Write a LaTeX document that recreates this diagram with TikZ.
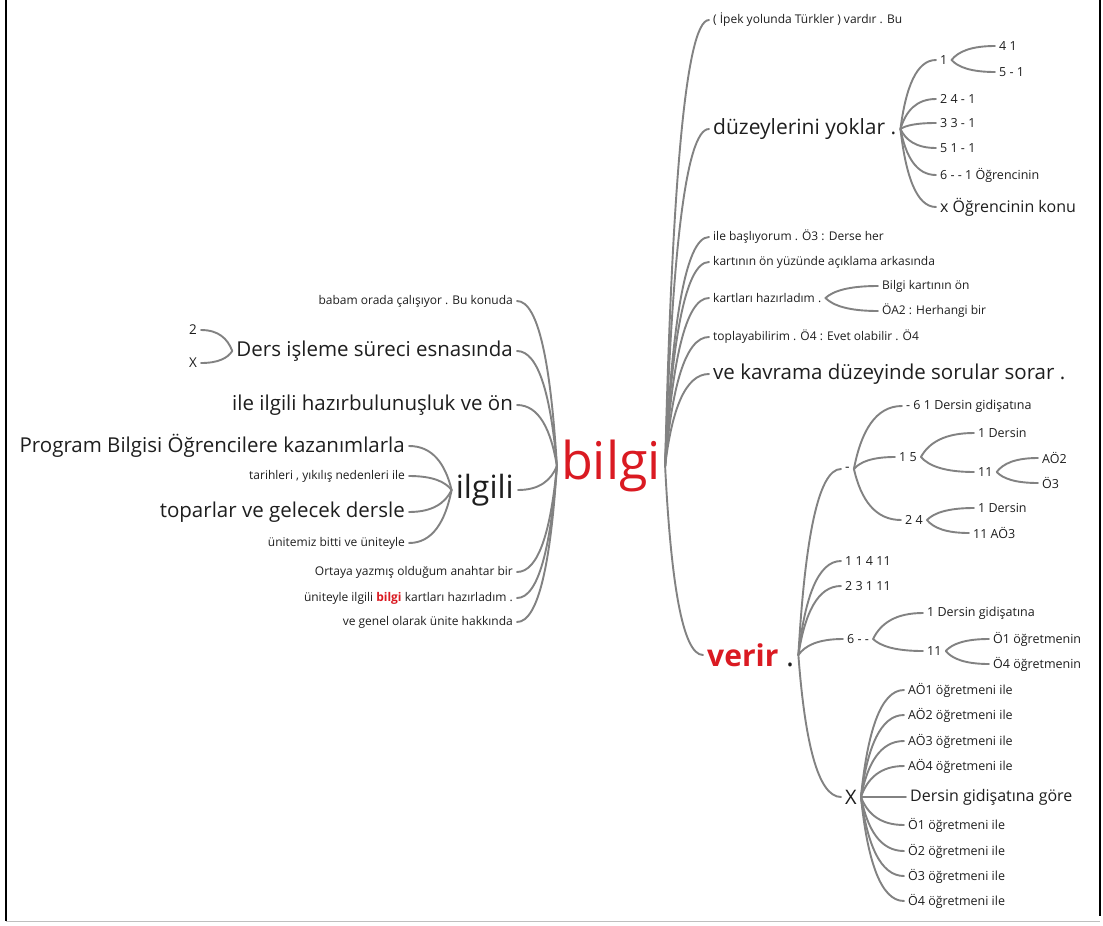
\documentclass[tikz,border=0pt]{standalone}
\usepackage{fontspec}
\setmainfont{Open Sans}
\usetikzlibrary{calc}

\definecolor{linegray}{RGB}{130,130,130}
\definecolor{keyred}{RGB}{218,26,34}
\definecolor{ink}{RGB}{30,30,30}

\tikzset{
  conn/.style={draw=linegray, line width=1.9pt, line cap=round},
  lbl/.style={inner xsep=4pt, inner ysep=1pt, text=ink, font=\fontsize{12}{14}\selectfont},
  rt/.style={lbl, anchor=west},
  lt/.style={lbl, anchor=east},
  big/.style={font=\fontsize{20.5}{24}\selectfont},
  mid/.style={font=\fontsize{16}{19}\selectfont},
  num/.style={font=\fontsize{12.5}{15}\selectfont},
  hub/.style={inner xsep=4pt, inner ysep=1pt, text=keyred, font=\fontsize{52}{56}\selectfont},
}

% curved branch from a parent point to a child point
\newcommand\mmlink[2]{\draw[conn] let \p1=(#1), \p2=(#2) in
  (\p1) .. controls ({\x1+0.15*(\x2-\x1)},{\y1+0.6*(\y2-\y1)})
           and ({\x1+0.45*(\x2-\x1)},{\y2}) .. (\p2);}

\begin{document}
\begin{tikzpicture}[x=1pt,y=-1pt]
\useasboundingbox (0,0) rectangle (1103,926);
\fill[white] (0,0) rectangle (1103,926);

% frame
\draw[line width=1.5pt] (6,0) -- (6,921);
\draw[line width=1.5pt] (1100,0) -- (1100,916);
\draw[line width=1pt, black!25] (6,921) -- (1100,921);

% centre
\node[hub] (bilgi) at (611,466) {bilgi};

% right side, first level
\node[rt] (r1) at (709,20) {( İpek yolunda Türkler ) vardır . Bu};
\node[rt,font=\fontsize{21}{25}\selectfont] (r2) at (709,129) {düzeylerini yoklar .};
\node[rt] (r3) at (709,237) {ile başlıyorum . Ö3 : Derse her};
\node[rt] (r4) at (709,262) {kartının ön yüzünde açıklama arkasında};
\node[rt] (r5) at (709,298) {kartları hazırladım .};
\node[rt] (r6) at (709,337) {toplayabilirim . Ö4 : Evet olabilir . Ö4};
\node[rt,big] (r7) at (709,374) {ve kavrama düzeyinde sorular sorar .};
\node[rt,font=\fontsize{30}{34}\selectfont] (r8) at (703,655) {\textcolor{keyred}{\textbf{verir}} .};

% düzeylerini yoklar .
\node[rt,num] (d1) at (936,60) {1};
\node[rt,num] (d11) at (995,46) {4 1};
\node[rt,num] (d12) at (995,72) {5 - 1};
\node[rt,num] (d2) at (936,99) {2 4 - 1};
\node[rt,num] (d3) at (936,123) {3 3 - 1};
\node[rt,num] (d4) at (936,148) {5 1 - 1};
\node[rt,num] (d5) at (936,175) {6 - - 1 Öğrencinin};
\node[rt,font=\fontsize{16}{19}\selectfont] (d6) at (936,207) {x Öğrencinin konu};

% kartları hazırladım .
\node[rt] (k1) at (878,286) {Bilgi kartının ön};
\node[rt] (k2) at (878,311) {ÖA2 : Herhangi bir};

% verir .
\node[rt,font=\fontsize{14}{16}\selectfont] (v1) at (841,469) {-};
\node[rt,num] (v2) at (841,561) {1 1 4 11};
\node[rt,num] (v3) at (841,586) {2 3 1 11};
\node[rt,num] (v4) at (843,639) {6 - -};
\node[rt,font=\fontsize{20}{24}\selectfont] (v5) at (841,797) {X};

% -
\node[rt,num] (m1) at (902,406) {- 6 1 Dersin gidişatına};
\node[rt,num] (m2) at (895,457) {1 5};
\node[rt,num] (m3) at (901,520) {2 4};
\node[rt,num] (m21) at (974,433) {1 Dersin};
\node[rt,num] (m22) at (974,472) {11};
\node[rt,num] (m221) at (1038,458) {AÖ2};
\node[rt,num] (m222) at (1038,483) {Ö3};
\node[rt,num] (m31) at (974,508) {1 Dersin};
\node[rt,num] (m32) at (969,533) {11 AÖ3};

% 6 - -
\node[rt,num] (s1) at (923,613) {1 Dersin gidişatına};
\node[rt,num] (s2) at (923,651) {11};
\node[rt,num] (s21) at (989,639) {Ö1 öğretmenin};
\node[rt,num] (s22) at (989,664) {Ö4 öğretmenin};

% X
\node[rt,num] (x1) at (904,690) {AÖ1 öğretmeni ile};
\node[rt,num] (x2) at (904,715) {AÖ2 öğretmeni ile};
\node[rt,num] (x3) at (904,741) {AÖ3 öğretmeni ile};
\node[rt,num] (x4) at (904,766) {AÖ4 öğretmeni ile};
\node[rt,mid] (x5) at (906,797) {Dersin gidişatına göre};
\node[rt,num] (x6) at (904,825) {Ö1 öğretmeni ile};
\node[rt,num] (x7) at (904,851) {Ö2 öğretmeni ile};
\node[rt,num] (x8) at (904,876) {Ö3 öğretmeni ile};
\node[rt,num] (x9) at (904,901) {Ö4 öğretmeni ile};

% left side, first level
\node[lt] (l1) at (517,301) {babam orada çalışıyor . Bu konuda};
\node[lt,big] (l2) at (517,351) {Ders işleme süreci esnasında};
\node[lt,big] (l3) at (517,405) {ile ilgili hazırbulunuşluk ve ön};
\node[lt,font=\fontsize{32}{36}\selectfont] (l4) at (518,490) {ilgili};
\node[lt] (l5) at (517,572) {Ortaya yazmış olduğum anahtar bir};
\node[lt] (l6) at (517,598) {üniteyle ilgili \textcolor{keyred}{\textbf{bilgi}} kartları hazırladım .};
\node[lt] (l7) at (517,622) {ve genel olarak ünite hakkında};

% Ders işleme süreci esnasında
\node[lt,font=\fontsize{13.5}{16}\selectfont] (e1) at (201,330) {2};
\node[lt,font=\fontsize{13.5}{16}\selectfont] (e2) at (201,363) {X};

% ilgili
\node[lt,big] (i1) at (409,446) {Program Bilgisi Öğrencilere kazanımlarla};
\node[lt] (i2) at (409,476) {tarihleri , yıkılış nedenleri ile};
\node[lt,big] (i3) at (409,512) {toparlar ve gelecek dersle};
\node[lt] (i4) at (409,543) {ünitemiz bitti ve üniteyle};

% connectors
\foreach \c in {r1,r2,r3,r4,r5,r6,r7,r8} {\mmlink{bilgi.east}{\c.west}}
\foreach \c in {l1,l2,l3,l4,l5,l6,l7} {\mmlink{bilgi.west}{\c.east}}
\foreach \c in {d1,d2,d3,d4,d5,d6} {\mmlink{r2.east}{\c.west}}
\foreach \c in {d11,d12} {\mmlink{d1.east}{\c.west}}
\foreach \c in {k1,k2} {\mmlink{r5.east}{\c.west}}
\foreach \c in {v1,v2,v3,v4,v5} {\mmlink{r8.east}{\c.west}}
\foreach \c in {m1,m2,m3} {\mmlink{v1.east}{\c.west}}
\foreach \c in {m21,m22} {\mmlink{m2.east}{\c.west}}
\foreach \c in {m221,m222} {\mmlink{m22.east}{\c.west}}
\foreach \c in {m31,m32} {\mmlink{m3.east}{\c.west}}
\foreach \c in {s1,s2} {\mmlink{v4.east}{\c.west}}
\foreach \c in {s21,s22} {\mmlink{s2.east}{\c.west}}
\foreach \c in {x1,x2,x3,x4,x5,x6,x7,x8,x9} {\mmlink{v5.east}{\c.west}}
\foreach \c in {e1,e2} {\mmlink{l2.west}{\c.east}}
\foreach \c in {i1,i2,i3,i4} {\mmlink{l4.west}{\c.east}}
\end{tikzpicture}
\end{document}
